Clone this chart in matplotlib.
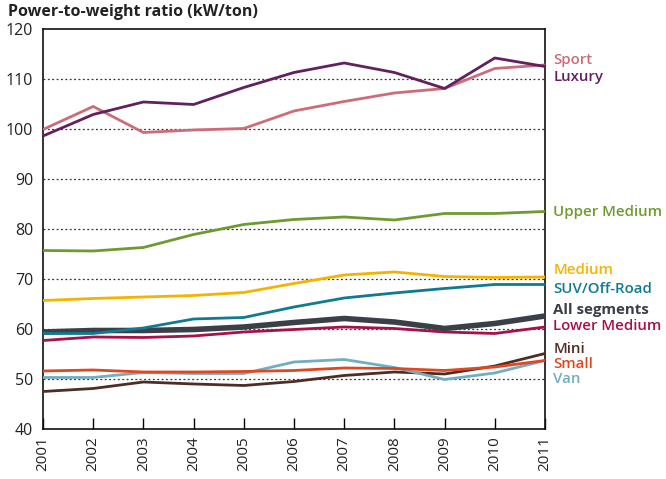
import matplotlib
matplotlib.use("Agg")
import matplotlib.pyplot as plt

plt.rcParams['font.family'] = ['Open Sans', 'DejaVu Sans']

years = [2001, 2002, 2003, 2004, 2005, 2006, 2007, 2008, 2009, 2010, 2011]

sport = [99.9, 104.5, 99.3, 99.8, 100.1, 103.6, 105.5, 107.2, 108.1, 112.1, 112.8]
luxury = [98.6, 102.9, 105.4, 104.9, 108.3, 111.3, 113.2, 111.3, 108.1, 114.2, 112.5]
upper_medium = [75.7, 75.6, 76.3, 78.9, 80.9, 81.9, 82.4, 81.8, 83.1, 83.1, 83.5]
medium = [65.7, 66.1, 66.4, 66.7, 67.3, 69.1, 70.8, 71.4, 70.5, 70.3, 70.4]
suv = [59.1, 59.1, 60.2, 62.0, 62.3, 64.4, 66.2, 67.2, 68.1, 68.9, 68.9]
all_segments = [59.4, 59.7, 59.7, 59.9, 60.4, 61.3, 62.1, 61.4, 60.1, 61.1, 62.6]
lower_medium = [57.7, 58.4, 58.3, 58.6, 59.4, 59.9, 60.4, 60.1, 59.4, 59.1, 60.4]
small = [51.6, 51.8, 51.4, 51.4, 51.5, 51.7, 52.2, 52.1, 51.7, 52.4, 53.7]
van = [50.3, 50.3, 51.3, 51.1, 51.1, 53.4, 53.9, 52.3, 49.9, 51.2, 53.7]
mini = [47.5, 48.1, 49.4, 49.0, 48.7, 49.5, 50.7, 51.4, 51.0, 52.6, 55.1]

# (name, values, colour, line width, label y, label weight)
series = [
    ("Mini", mini, "#4e2e24", 2.0, 56.0, "semibold"),
    ("Van", van, "#72adc2", 2.0, 50.0, "semibold"),
    ("Small", small, "#e0481f", 2.0, 53.0, "semibold"),
    ("Lower Medium", lower_medium, "#a8104a", 2.0, 60.6, "semibold"),
    ("All segments", all_segments, "#3a3f48", 4.0, 63.8, "bold"),
    ("SUV/Off-Road", suv, "#0f7b93", 2.0, 68.0, "semibold"),
    ("Medium", medium, "#f5b300", 2.0, 71.7, "semibold"),
    ("Upper Medium", upper_medium, "#6e9b30", 2.0, 83.4, "semibold"),
    ("Sport", sport, "#cd6c78", 2.0, 113.8, "semibold"),
    ("Luxury", luxury, "#62205f", 2.0, 110.4, "semibold"),
]

fig = plt.figure(figsize=(6.66, 4.79), dpi=100)
ax = fig.add_axes([0.0646, 0.1044, 0.7537, 0.8351])

for y in range(50, 120, 10):
    ax.axhline(y, color="#333333", lw=0.9, ls=(0, (1.5, 2)), zorder=0)

for name, vals, col, lw, ly, wt in series:
    ax.plot(years, vals, color=col, lw=lw, solid_capstyle="butt", zorder=3)
    ax.annotate(name, xy=(1, ly), xycoords=("axes fraction", "data"),
                xytext=(6, 0), textcoords="offset points",
                color=col, fontsize=10.8, fontweight=wt, va="center", ha="left")

ax.set_xlim(2001, 2011)
ax.set_ylim(40, 120)
ax.set_xticks(years)
ax.set_xticklabels([str(y) for y in years], rotation=90, fontsize=11, color="#222222")
ax.set_yticks(range(40, 121, 10))
ax.tick_params(axis="y", length=0, labelsize=11.5, labelcolor="#222222", pad=7)
ax.tick_params(axis="x", direction="in", length=8, width=1, pad=5)
for s in ax.spines.values():
    s.set_linewidth(1.2)
    s.set_color("#111111")

fig.text(0.012, 0.975, "Power-to-weight ratio (kW/ton)", fontsize=11.5,
         fontweight="bold", color="#222222", va="center", ha="left")

fig.savefig("out.png", dpi=100)
